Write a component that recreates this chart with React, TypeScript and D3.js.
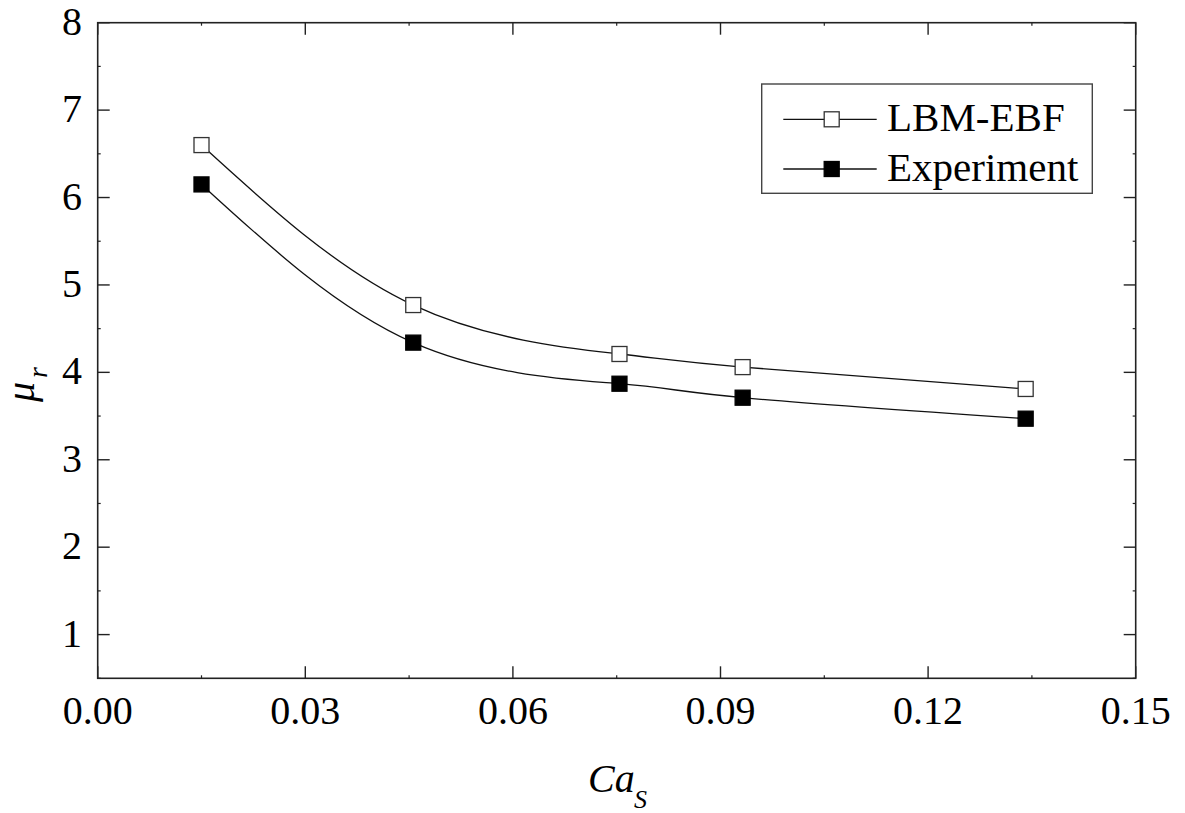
import React from "react";
import * as d3 from "d3";

// Capillary number (Ca_S) and relative viscosity (mu_r)
const caValues = [0.015, 0.0456, 0.0754, 0.0932, 0.1341];
const lbmEbf = [6.6, 4.77, 4.21, 4.06, 3.81];
const experiment = [6.15, 4.34, 3.87, 3.71, 3.47];
const xTicks = [0, 0.03, 0.06, 0.09, 0.12, 0.15];
const yTicks = [1, 2, 3, 4, 5, 6, 7, 8];
const seriesNames = ["LBM-EBF", "Experiment"];

const W = 1185;
const H = 813;
const left = 97.7;
const right = 1135.7;
const top = 22.7;
const bottom = 678.3;
const FONT = "'Liberation Serif', 'Times New Roman', serif";

export default function App() {
  const x = d3.scaleLinear().domain([0, 0.15]).range([left, right]);
  const y = d3.scaleLinear().domain([0.5, 8]).range([bottom, top]);

  const line = d3
    .line<[number, number]>()
    .x((d) => x(d[0]))
    .y((d) => y(d[1]))
    .curve(d3.curveNatural);

  const series = [lbmEbf, experiment].map((vals) =>
    caValues.map((c, i) => [c, vals[i]] as [number, number])
  );

  const xMinor = d3.range(0, 0.1501, 0.015).filter((v) => !xTicks.some((t) => Math.abs(t - v) < 1e-9));
  const yMinor = d3.range(0.5, 8.01, 0.5).filter((v) => !yTicks.some((t) => Math.abs(t - v) < 1e-9));

  const axisColor = "#222";
  const major = 12;
  const minor = 3;
  const ms = 15;

  return (
    <svg
      width={W}
      height={H}
      style={{ position: "absolute", left: 0, top: 0, background: "#fff" }}
      fontFamily={FONT}
    >
      <rect x={0} y={0} width={W} height={H} fill="#fff" />

      {/* data curves */}
      {series.map((pts, si) => (
        <path key={"l" + si} d={line(pts) || ""} fill="none" stroke="#111" strokeWidth={1.3} />
      ))}
      {series.map((pts, si) =>
        pts.map((p, i) => (
          <rect
            key={"m" + si + "-" + i}
            x={x(p[0]) - ms / 2}
            y={y(p[1]) - ms / 2}
            width={ms}
            height={ms}
            fill={si === 0 ? "#fff" : "#000"}
            stroke={si === 0 ? "#333" : "#000"}
            strokeWidth={1.3}
          />
        ))
      )}

      {/* frame */}
      <rect
        x={left}
        y={top}
        width={right - left}
        height={bottom - top}
        fill="none"
        stroke={axisColor}
        strokeWidth={1.6}
      />

      {/* x ticks, bottom and top */}
      {xTicks.map((t) => (
        <g key={"xt" + t}>
          <line x1={x(t)} x2={x(t)} y1={bottom} y2={bottom - major} stroke={axisColor} strokeWidth={1.4} />
          <line x1={x(t)} x2={x(t)} y1={top} y2={top + major} stroke={axisColor} strokeWidth={1.4} />
          <text x={x(t)} y={bottom + 46} fontSize={40} textAnchor="middle" fill="#000">
            {d3.format(".2f")(t)}
          </text>
        </g>
      ))}
      {xMinor.map((t) => (
        <g key={"xm" + t}>
          <line x1={x(t)} x2={x(t)} y1={bottom} y2={bottom - minor} stroke={axisColor} strokeWidth={1.2} />
          <line x1={x(t)} x2={x(t)} y1={top} y2={top + minor} stroke={axisColor} strokeWidth={1.2} />
        </g>
      ))}

      {/* y ticks, left and right */}
      {yTicks.map((t) => (
        <g key={"yt" + t}>
          <line x1={left} x2={left + major} y1={y(t)} y2={y(t)} stroke={axisColor} strokeWidth={1.4} />
          <line x1={right} x2={right - major} y1={y(t)} y2={y(t)} stroke={axisColor} strokeWidth={1.4} />
          <text x={82} y={y(t) + 12} fontSize={40} textAnchor="end" fill="#000">
            {t}
          </text>
        </g>
      ))}
      {yMinor.map((t) => (
        <g key={"ym" + t}>
          <line x1={left} x2={left + minor} y1={y(t)} y2={y(t)} stroke={axisColor} strokeWidth={1.2} />
          <line x1={right} x2={right - minor} y1={y(t)} y2={y(t)} stroke={axisColor} strokeWidth={1.2} />
        </g>
      ))}

      {/* x axis title: Ca_S */}
      <text x={588} y={791.7} fontSize={40} fontStyle="italic" fill="#000">
        Ca
      </text>
      <text x={634} y={808} fontSize={26} fontStyle="italic" fill="#000">
        S
      </text>

      {/* y axis title: mu_r */}
      <text transform="translate(34,402) rotate(-90)" fontSize={40} fontStyle="italic" fill="#000">
        μ
      </text>
      <text transform="translate(47,378) rotate(-90)" fontSize={28} fontStyle="italic" fill="#000">
        r
      </text>

      {/* legend */}
      <rect x={761.7} y={84} width={330.6} height={109.3} fill="#fff" stroke="#444" strokeWidth={1.4} />
      {seriesNames.map((name, i) => {
        const ly = i === 0 ? 119.3 : 169;
        return (
          <g key={"lg" + i}>
            <line x1={783.3} x2={876.7} y1={ly} y2={ly} stroke="#111" strokeWidth={1.3} />
            <rect
              x={831.7 - ms / 2}
              y={ly - ms / 2}
              width={ms}
              height={ms}
              fill={i === 0 ? "#fff" : "#000"}
              stroke={i === 0 ? "#333" : "#000"}
              strokeWidth={1.3}
            />
            <text x={887} y={ly + 11.5} fontSize={41} fill="#000">
              {name}
            </text>
          </g>
        );
      })}
    </svg>
  );
}
